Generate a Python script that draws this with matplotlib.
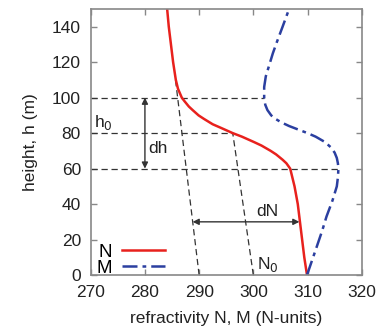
import matplotlib
matplotlib.use("Agg")
import matplotlib.pyplot as plt
import numpy as np

plt.rcParams['font.family'] = ['Liberation Sans', 'DejaVu Sans']

# --- data ---
h_N = [0, 10, 20, 30, 40, 50, 55, 60, 63, 65, 68, 70, 73, 75, 78, 80, 83, 85, 88, 90,
       93, 95, 98, 100, 105, 110, 120, 130, 140, 150]
N = [309.9, 309.4, 309.0, 308.6, 308.2, 307.6, 307.2, 306.8, 306.1, 305.4, 304.2, 303.2,
     301.5, 300.1, 297.9, 296.2, 294.0, 292.5, 290.9, 289.9, 288.8, 288.1, 287.3, 286.8,
     286.1, 285.7, 285.2, 284.8, 284.4, 284.1]

h_M = [0, 8, 16, 25, 33, 42, 50, 55, 60, 63, 66, 69, 72, 75, 78, 80, 82, 84, 86, 88, 90,
       93, 96, 100, 106, 112, 117, 125, 131, 140, 150]
M = [309.9, 310.8, 311.7, 312.7, 313.5, 314.6, 315.4, 315.6, 315.7, 315.6, 315.4, 315.0,
     314.3, 313.2, 311.5, 310.0, 308.3, 306.6, 305.2, 304.1, 303.3,
     302.6, 302.2, 302.0, 302.0, 302.3, 302.8, 303.6, 304.3, 305.4, 306.6]

# reference lines (standard gradient)
ref1_N = [290.0, 285.6]
ref1_h = [0, 111]
ref2_N = [300.0, 296.2]
ref2_h = [0, 80]

# horizontal guide lines: height, end refractivity
guide_h = [100, 80, 60]
guide_end = [302.0, 296.2, 315.7]

dh_x = 280
dh_range = [60, 100]
dN_h = 30
dN_range = [288.8, 308.5]

fig = plt.figure(figsize=(3.78, 3.31), dpi=100)
ax = fig.add_axes([0.240, 0.169, 0.717, 0.804])

dash = dict(color='#333333', lw=0.9, ls=(0, (5, 3)))
for hh, xe in zip(guide_h, guide_end):
    ax.plot([270, xe], [hh, hh], **dash)
ax.plot(ref1_N, ref1_h, **dash)
ax.plot(ref2_N, ref2_h, **dash)

ax.plot(N, h_N, color='#e8211d', lw=1.8, label='N', solid_joinstyle='round')
ax.plot(M, h_M, color='#2b3fa0', lw=1.8, ls=(0, (6, 2, 1.5, 2)), label='M')

arr = dict(arrowstyle='<|-|>', color='#333333', lw=1.0, mutation_scale=9,
           shrinkA=0, shrinkB=0)
ax.annotate('', xy=(dh_x, dh_range[0]), xytext=(dh_x, dh_range[1]), arrowprops=arr)
ax.annotate('', xy=(dN_range[0], dN_h), xytext=(dN_range[1], dN_h), arrowprops=arr)

fs = 12.5
ax.text(280.6, 71.5, 'dh', fontsize=fs, ha='left', va='center', color='#222222')
ax.text(270.6, 86, 'h$_0$', fontsize=fs, ha='left', va='center', color='#222222')
ax.text(302.5, 36, 'dN', fontsize=fs, ha='center', va='center', color='#222222')
ax.text(300.6, 0.5, 'N$_0$', fontsize=fs, ha='left', va='bottom', color='#222222')

ax.set_xlim(270, 320)
ax.set_ylim(0, 150)
ax.set_xticks(np.arange(270, 321, 10))
ax.set_yticks(np.arange(0, 141, 20))
ax.tick_params(direction='in', top=True, right=True, length=4, width=1,
               color='#888888', labelsize=fs, labelcolor='#222222', pad=7)
for sp in ax.spines.values():
    sp.set_color('#888888')
    sp.set_linewidth(1.2)

ax.set_xlabel('refractivity N, M (N-units)', fontsize=fs, color='#222222', labelpad=8)
ax.set_ylabel('height, h (m)', fontsize=fs, color='#222222', labelpad=10)

ax.legend(loc='lower left', bbox_to_anchor=(-0.005, -0.035), frameon=False, fontsize=fs + 1,
          handlelength=2.3, handletextpad=0.5, labelspacing=-0.05, borderaxespad=0.0,
          markerfirst=False)

fig.savefig('out.png', dpi=100)
